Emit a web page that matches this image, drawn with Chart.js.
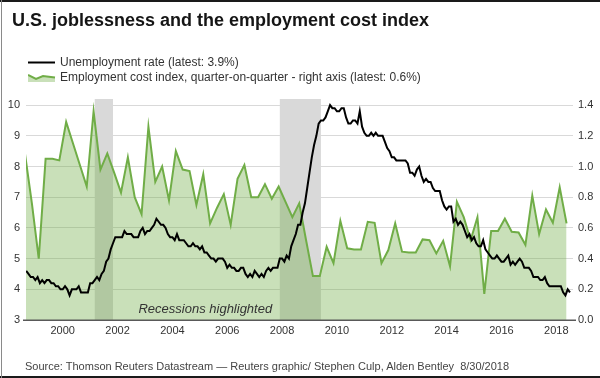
<!DOCTYPE html>
<html>
<head>
<meta charset="utf-8">
<script src="https://cdn.jsdelivr.net/npm/chart.js@4/dist/chart.umd.min.js"></script>
<style>
  html, body { margin: 0; padding: 0; background: #fff; }
  #wrap { position: relative; width: 600px; height: 378px; overflow: hidden; background: #fff; font-family: "Liberation Sans", Arial, sans-serif; }
  #c { position: absolute; left: 0; top: 0; }
  .t { position: absolute; white-space: nowrap; }
  #title { left: 12px; top: 9px; font-size: 18px; line-height: 22px; font-weight: bold; color: #151515; }
  .leg { left: 60px; font-size: 12px; line-height: 15px; color: #333; }
  #leg1 { top: 55px; }
  #leg2 { top: 70px; }
  .sw { position: absolute; left: 28px; }
  #source { left: 25px; top: 359px; font-size: 11px; line-height: 14px; color: #444; }
  #frameTop { position: absolute; left: 0; top: 0; width: 600px; height: 2px; background: #1a1a1a; }
  #frameBottom { position: absolute; left: 0; top: 376px; width: 600px; height: 2px; background: #1a1a1a; }
  #frameLeft { position: absolute; left: 1px; top: 0; width: 1px; height: 378px; background: #8a8a8a; }
</style>
</head>
<body>
<div id="wrap">
  <canvas id="c" width="600" height="378"></canvas>
  <div id="title" class="t">U.S. joblessness and the employment cost index</div>
  <svg class="sw" style="top:56px" width="28" height="12"><line x1="0" y1="6.5" x2="27" y2="6.5" stroke="#000" stroke-width="2"/></svg>
  <svg class="sw" style="top:71px" width="28" height="12"><path d="M0,4 L8,8 L15,5 L27,6.5 L27,11 L0,11 Z" fill="rgba(112,173,71,0.38)"/><path d="M0,4 L8,8 L15,5 L27,6.5" fill="none" stroke="#70ad47" stroke-width="2"/></svg>
  <div id="leg1" class="t leg">Unemployment rate (latest: 3.9%)</div>
  <div id="leg2" class="t leg">Employment cost index, quarter-on-quarter - right axis (latest: 0.6%)</div>
  <div id="source" class="t">Source: Thomson Reuters Datastream — Reuters graphic/ Stephen Culp, Alden Bentley&nbsp;&nbsp;8/30/2018</div>
  <div id="frameTop"></div>
  <div id="frameBottom"></div>
  <div id="frameLeft"></div>
</div>
<script>
// ---------------- DATA ----------------
// Monthly US unemployment rate (%), Sep 1998 .. Jul 2018
const unemploymentStart = 1998 + 8 / 12;   // Sep 1998 (decimal year)
const unemployment = [
  4.6, 4.5, 4.4, 4.4,                                              // 1998 Sep-Dec
  4.3, 4.4, 4.2, 4.3, 4.2, 4.3, 4.3, 4.2, 4.2, 4.1, 4.1, 4.0,      // 1999
  4.0, 4.1, 4.0, 3.8, 4.0, 4.0, 4.0, 4.1, 3.9, 3.9, 3.9, 3.9,      // 2000
  4.2, 4.2, 4.3, 4.4, 4.3, 4.5, 4.6, 4.9, 5.0, 5.3, 5.5, 5.7,      // 2001
  5.7, 5.7, 5.7, 5.9, 5.8, 5.8, 5.8, 5.7, 5.7, 5.7, 5.9, 6.0,      // 2002
  5.8, 5.9, 5.9, 6.0, 6.1, 6.3, 6.2, 6.1, 6.1, 6.0, 5.8, 5.7,      // 2003
  5.7, 5.6, 5.8, 5.6, 5.6, 5.6, 5.5, 5.4, 5.4, 5.5, 5.4, 5.4,      // 2004
  5.3, 5.4, 5.2, 5.2, 5.1, 5.0, 5.0, 4.9, 5.0, 5.0, 5.0, 4.9,      // 2005
  4.7, 4.8, 4.7, 4.7, 4.6, 4.6, 4.7, 4.7, 4.5, 4.4, 4.5, 4.4,      // 2006
  4.6, 4.5, 4.4, 4.5, 4.4, 4.6, 4.7, 4.6, 4.7, 4.7, 4.7, 5.0,      // 2007
  5.0, 4.9, 5.1, 5.0, 5.4, 5.6, 5.8, 6.1, 6.1, 6.5, 6.8, 7.3,      // 2008
  7.8, 8.3, 8.7, 9.0, 9.4, 9.5, 9.5, 9.6, 9.8, 10.0, 9.9, 9.9,     // 2009
  9.8, 9.8, 9.9, 9.9, 9.6, 9.4, 9.4, 9.5, 9.5, 9.4, 9.8, 9.3,      // 2010
  9.1, 9.0, 9.0, 9.1, 9.0, 9.1, 9.0, 9.0, 9.0, 8.8, 8.6, 8.5,      // 2011
  8.3, 8.3, 8.2, 8.2, 8.2, 8.2, 8.2, 8.1, 7.8, 7.8, 7.7, 7.9,      // 2012
  8.0, 7.7, 7.5, 7.6, 7.5, 7.5, 7.3, 7.2, 7.2, 7.2, 6.9, 6.7,      // 2013
  6.6, 6.7, 6.7, 6.2, 6.3, 6.1, 6.2, 6.1, 5.9, 5.7, 5.8, 5.6,      // 2014
  5.7, 5.5, 5.4, 5.4, 5.6, 5.3, 5.2, 5.1, 5.0, 5.0, 5.1, 5.0,      // 2015
  4.9, 4.9, 5.0, 5.1, 4.8, 4.9, 4.8, 4.9, 5.0, 4.9, 4.7, 4.7,      // 2016
  4.7, 4.6, 4.4, 4.4, 4.4, 4.3, 4.3, 4.4, 4.2, 4.1, 4.1, 4.1,      // 2017
  4.1, 4.1, 4.1, 3.9, 3.8, 4.0, 3.9                                 // 2018 Jan-Jul
];

// Quarterly employment cost index, q/q % change, Q3 1998 .. Q2 2018 (right axis)
const eciStart = 1998.5 + 0.125;           // Q3 1998, plotted mid-quarter
const eci = [
  1.08, 0.76,                  // 1998 Q3-Q4
  0.40, 1.05, 1.05, 1.04,      // 1999
  1.29, 1.15, 1.01, 0.87,      // 2000
  1.36, 0.98, 1.085, 0.96,     // 2001
  0.83, 1.06, 0.80, 0.69,      // 2002
  1.26, 0.90, 1.00, 0.78,      // 2003
  1.10, 0.98, 0.97, 0.75,      // 2004
  0.95, 0.63, 0.73, 0.82,      // 2005
  0.62, 0.92, 1.01, 0.80,      // 2006
  0.80, 0.885, 0.79, 0.87,     // 2007
  0.77, 0.67, 0.76, 0.52,      // 2008
  0.286, 0.286, 0.477, 0.37,   // 2009
  0.646, 0.467, 0.46, 0.46,    // 2010
  0.64, 0.633, 0.37, 0.456,    // 2011
  0.63, 0.445, 0.44, 0.44,     // 2012
  0.525, 0.52, 0.434, 0.516,   // 2013
  0.35, 0.77, 0.67, 0.52,      // 2014
  0.67, 0.17, 0.58, 0.58,      // 2015
  0.66, 0.575, 0.57, 0.49,     // 2016
  0.81, 0.56, 0.72, 0.634,     // 2017
  0.864, 0.63                  // 2018 Q1-Q2
];

// Recessions (NBER), decimal years: start of peak month .. start of trough month
const recessions = [
  [2001 + 2 / 12, 2001 + 10 / 12],
  [2007 + 11 / 12, 2009 + 5 / 12]
];

// Axis ticks
const xTicks = [2000, 2002, 2004, 2006, 2008, 2010, 2012, 2014, 2016, 2018];
const leftTicks = [3, 4, 5, 6, 7, 8, 9, 10];
const rightTicks = [0.0, 0.2, 0.4, 0.6, 0.8, 1.0, 1.2, 1.4];

const recessionNote = 'Recessions highlighted';

// ---------------- CHART ----------------
const tickFont = { family: '"Liberation Sans", Arial, sans-serif', size: 11 };

const bandsPlugin = {
  id: 'bands',
  beforeDraw(chart) {
    const { ctx, chartArea, scales } = chart;
    const x = scales.x;
    ctx.save();
    ctx.fillStyle = '#d9d9d9';
    recessions.forEach(r => {
      const x0 = x.getPixelForValue(r[0]);
      const x1 = x.getPixelForValue(r[1]);
      ctx.fillRect(x0, chartArea.top, x1 - x0, chartArea.bottom - chartArea.top);
    });
    ctx.restore();
  }
};

const overlayPlugin = {
  id: 'overlay',
  afterDatasetsDraw(chart) {
    const { ctx, chartArea, scales } = chart;
    ctx.save();
    // x axis line
    ctx.strokeStyle = '#595959';
    ctx.lineWidth = 1.5;
    ctx.beginPath();
    ctx.moveTo(chartArea.left - 3, chartArea.bottom + 0.25);
    ctx.lineTo(chartArea.right + 3, chartArea.bottom + 0.25);
    ctx.stroke();
    // note
    ctx.fillStyle = '#333';
    ctx.font = 'italic 13px "Liberation Sans", Arial, sans-serif';
    ctx.textAlign = 'center';
    ctx.textBaseline = 'middle';
    ctx.fillText(recessionNote, scales.x.getPixelForValue(2005.2), scales.yL.getPixelForValue(3.36));
    ctx.restore();
  }
};

new Chart(document.getElementById('c'), {
  type: 'line',
  data: {
    datasets: [
      {
        label: 'Unemployment rate (latest: 3.9%)',
        data: unemployment.map((v, i) => ({ x: unemploymentStart + i / 12, y: v })),
        yAxisID: 'yL',
        borderColor: '#000000',
        borderWidth: 2,
        pointRadius: 0,
        fill: false,
        tension: 0,
        order: 0
      },
      {
        label: 'Employment cost index, quarter-on-quarter - right axis (latest: 0.6%)',
        data: eci.map((v, i) => ({ x: eciStart + i / 4, y: v })),
        yAxisID: 'yR',
        borderColor: '#70ad47',
        borderWidth: 2,
        backgroundColor: 'rgba(112,173,71,0.38)',
        fill: 'origin',
        pointRadius: 0,
        tension: 0,
        order: 1
      }
    ]
  },
  options: {
    responsive: false,
    animation: false,
    devicePixelRatio: 1,
    layout: { padding: { top: 99, left: 0, right: 0, bottom: 0 } },
    plugins: { legend: { display: false }, tooltip: { enabled: false }, title: { display: false } },
    scales: {
      x: {
        type: 'linear',
        min: 1998.66,
        max: 2018.61,
        grid: { display: false, drawTicks: false },
        border: { display: false },
        afterBuildTicks: s => { s.ticks = xTicks.map(v => ({ value: v })); },
        afterFit: s => { s.height = 58; },
        ticks: {
          autoSkip: false, maxRotation: 0, padding: 4,
          font: tickFont, color: '#333',
          callback: v => String(v)
        }
      },
      yL: {
        type: 'linear',
        position: 'left',
        min: 3,
        max: 10.2,
        afterBuildTicks: s => { s.ticks = leftTicks.map(v => ({ value: v })); },
        afterFit: s => { s.width = 26; },
        grid: { color: '#d9d9d9', lineWidth: 1, drawTicks: false },
        border: { display: false },
        ticks: { padding: 6, font: tickFont, color: '#333', callback: v => String(v) }
      },
      yR: {
        type: 'linear',
        position: 'right',
        min: 0,
        max: 1.44,
        afterBuildTicks: s => { s.ticks = rightTicks.map(v => ({ value: v })); },
        afterFit: s => { s.width = 27; },
        grid: { display: false, drawTicks: false },
        border: { display: false },
        ticks: { padding: 5, font: tickFont, color: '#333', callback: v => Number(v).toFixed(1) }
      }
    }
  },
  plugins: [bandsPlugin, overlayPlugin]
});
</script>
</body>
</html>
